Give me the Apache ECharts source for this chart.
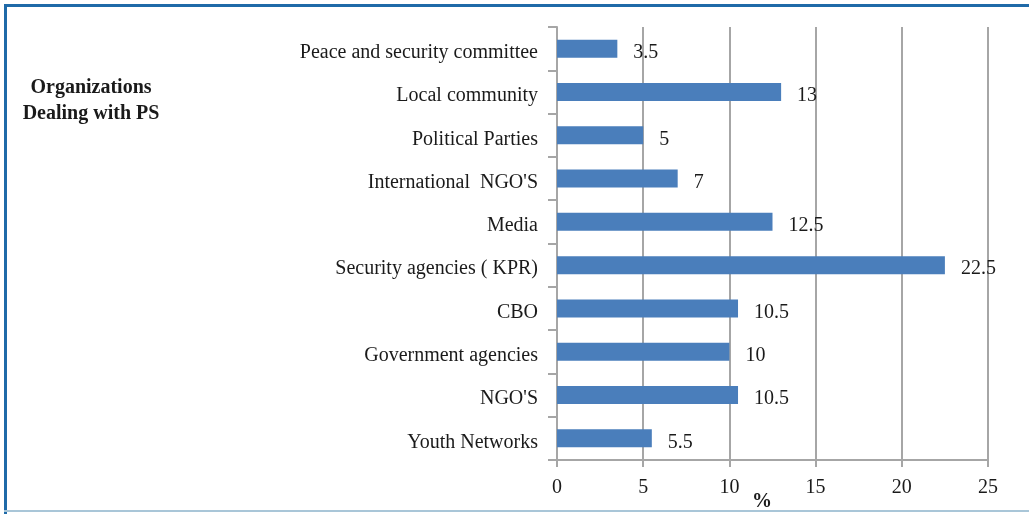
<!DOCTYPE html>
<html>
<head>
<meta charset="utf-8">
<script src="https://cdn.jsdelivr.net/npm/echarts@6/dist/echarts.min.js"></script>
<style>
  html, body { margin: 0; padding: 0; background: #fff; }
  #chart { width: 1029px; height: 514px; }
</style>
</head>
<body>
<div id="chart"></div>
<script>
// Organizations, listed top to bottom
const categories = [
  'Peace and security committee',
  'Local community',
  'Political Parties',
  'International  NGO\'S',
  'Media',
  'Security agencies ( KPR)',
  'CBO',
  'Government agencies',
  'NGO\'S',
  'Youth Networks'
];
// Share of respondents (%)
const values = [3.5, 13, 5, 7, 12.5, 22.5, 10.5, 10, 10.5, 5.5];
const xTicks = [0, 5, 10, 15, 20, 25];

const serif = '"Liberation Serif", "DejaVu Serif", serif';
const textColor = '#1a1a1a';
const gridGray = '#a6a6a6';

const chart = echarts.init(document.getElementById('chart'));
chart.setOption({
  animation: false,
  textStyle: { fontFamily: serif },
  grid: { left: 557, right: 41, top: 27, bottom: 54 },
  xAxis: {
    type: 'value',
    min: xTicks[0],
    max: xTicks[xTicks.length - 1],
    interval: 5,
    axisLine: { show: true, lineStyle: { color: gridGray, width: 2 } },
    axisTick: { show: true, length: 7, lineStyle: { color: gridGray, width: 2 } },
    axisLabel: { color: textColor, fontFamily: serif, fontSize: 20, margin: 18 },
    splitLine: { show: true, lineStyle: { color: gridGray, width: 2 } }
  },
  yAxis: {
    type: 'category',
    data: categories,
    inverse: true,
    axisLine: { show: true, lineStyle: { color: gridGray, width: 2 } },
    axisTick: { show: true, length: 9, lineStyle: { color: gridGray, width: 2 } },
    axisLabel: {
      color: textColor, fontFamily: serif, fontSize: 20, margin: 19,
      // sit the names slightly below the bar centre line
      verticalAlign: 'top', lineHeight: 8
    }
  },
  series: [{
    type: 'bar',
    data: values,
    barWidth: 18,
    itemStyle: { color: '#4a7ebb' },
    label: {
      show: true,
      position: 'right',
      distance: 16,
      offset: [0, 4],
      color: textColor,
      fontFamily: serif,
      fontSize: 20
    }
  }],
  graphic: [
    // frame
    { type: 'rect', shape: { x: 4, y: 4, width: 1040, height: 3 }, style: { fill: '#1f6aa8' } },
    { type: 'rect', shape: { x: 4, y: 4, width: 3, height: 520 }, style: { fill: '#1f6aa8' } },
    { type: 'rect', shape: { x: 4, y: 510, width: 1040, height: 2 }, style: { fill: '#a9c6d8' } },
    {
      type: 'text',
      style: {
        x: 91, y: 75,
        text: 'Organizations\nDealing with PS',
        font: 'bold 20px ' + serif,
        fill: textColor,
        textAlign: 'center',
        lineHeight: 26
      }
    },
    {
      type: 'text', left: 752, top: 492,
      style: { text: '%', font: 'bold 20px ' + serif, fill: textColor }
    }
  ]
});
</script>
</body>
</html>
